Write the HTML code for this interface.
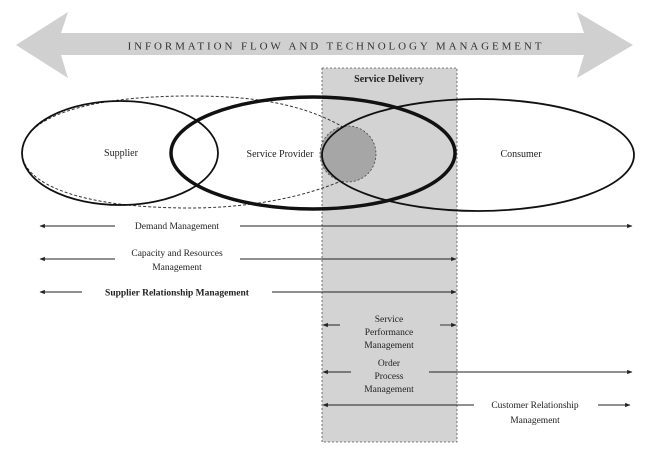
<!DOCTYPE html>
<html><head><meta charset="utf-8"><style>
html,body{margin:0;padding:0;background:#fff;}
svg{display:block;font-family:"Liberation Serif",serif;}
</style></head><body>
<svg width="650" height="458" viewBox="0 0 650 458" xmlns="http://www.w3.org/2000/svg">
<defs>
<marker id="ah" viewBox="0 0 10 10" refX="9" refY="5" markerWidth="6" markerHeight="6" orient="auto-start-reverse">
<path d="M0,1 L10,5 L0,9 z" fill="#222"/></marker>
</defs>
<rect width="650" height="458" fill="#fff"/>
<polygon points="16,45 68,12 61,33 584,33 577,12 633,45 577,78 584,55 61,55 68,78" fill="#d0d0d0"/>
<text x="336" y="49.5" font-size="11" text-anchor="middle" letter-spacing="2.9" fill="#333">INFORMATION FLOW AND TECHNOLOGY MANAGEMENT</text>
<rect x="322" y="68" width="135" height="374" fill="#d3d3d3" stroke="#555" stroke-width="0.8" stroke-dasharray="2,2"/>
<text x="389" y="82" font-size="10" font-weight="bold" text-anchor="middle" fill="#222">Service Delivery</text>
<path d="M348,130 C300,100 240,96 190,96 C80,96 22,120 22,152 C22,184 80,208 190,208 C240,208 300,200 348,178" fill="none" stroke="#333" stroke-width="1" stroke-dasharray="3,2"/>
<circle cx="348" cy="154" r="28" fill="#a6a6a6" stroke="#444" stroke-width="0.8" stroke-dasharray="2,2"/>
<ellipse cx="120" cy="153" rx="98" ry="52" fill="none" stroke="#111" stroke-width="1.8"/>
<ellipse cx="478" cy="155" rx="156" ry="56" fill="none" stroke="#111" stroke-width="1.8"/>
<ellipse cx="313" cy="153" rx="142" ry="56" fill="none" stroke="#111" stroke-width="3.5"/>
<text x="121" y="156" font-size="10" text-anchor="middle" fill="#222">Supplier</text>
<text x="280" y="157" font-size="10" text-anchor="middle" fill="#222">Service Provider</text>
<text x="521" y="157" font-size="10" text-anchor="middle" fill="#222">Consumer</text>
<g stroke="#222" stroke-width="0.9" fill="none">
<line x1="115" y1="226" x2="40" y2="226" marker-end="url(#ah)"/>
<line x1="240" y1="226" x2="632" y2="226" marker-end="url(#ah)"/>
<line x1="115" y1="259" x2="40" y2="259" marker-end="url(#ah)"/>
<line x1="240" y1="259" x2="456" y2="259" marker-end="url(#ah)"/>
<line x1="82" y1="292" x2="40" y2="292" marker-end="url(#ah)"/>
<line x1="272" y1="292" x2="456" y2="292" marker-end="url(#ah)"/>
<line x1="340" y1="325" x2="323" y2="325" marker-end="url(#ah)"/>
<line x1="440" y1="325" x2="456" y2="325" marker-end="url(#ah)"/>
<line x1="351" y1="372" x2="323" y2="372" marker-end="url(#ah)"/>
<line x1="429" y1="372" x2="632" y2="372" marker-end="url(#ah)"/>
<line x1="474" y1="405" x2="323" y2="405" marker-end="url(#ah)"/>
<line x1="598" y1="405" x2="630" y2="405" marker-end="url(#ah)"/>
</g>
<g font-size="9.5" text-anchor="middle" fill="#222">
<text x="177" y="229">Demand Management</text>
<text x="177" y="256">Capacity and Resources</text>
<text x="177" y="270">Management</text>
<text x="177" y="295.5" font-weight="bold">Supplier Relationship Management</text>
<text x="389" y="322">Service</text>
<text x="389" y="335">Performance</text>
<text x="389" y="348">Management</text>
<text x="389" y="366">Order</text>
<text x="389" y="379">Process</text>
<text x="389" y="392">Management</text>
<text x="535" y="408">Customer Relationship</text>
<text x="535" y="423">Management</text>
</g>
</svg>
</body></html>
